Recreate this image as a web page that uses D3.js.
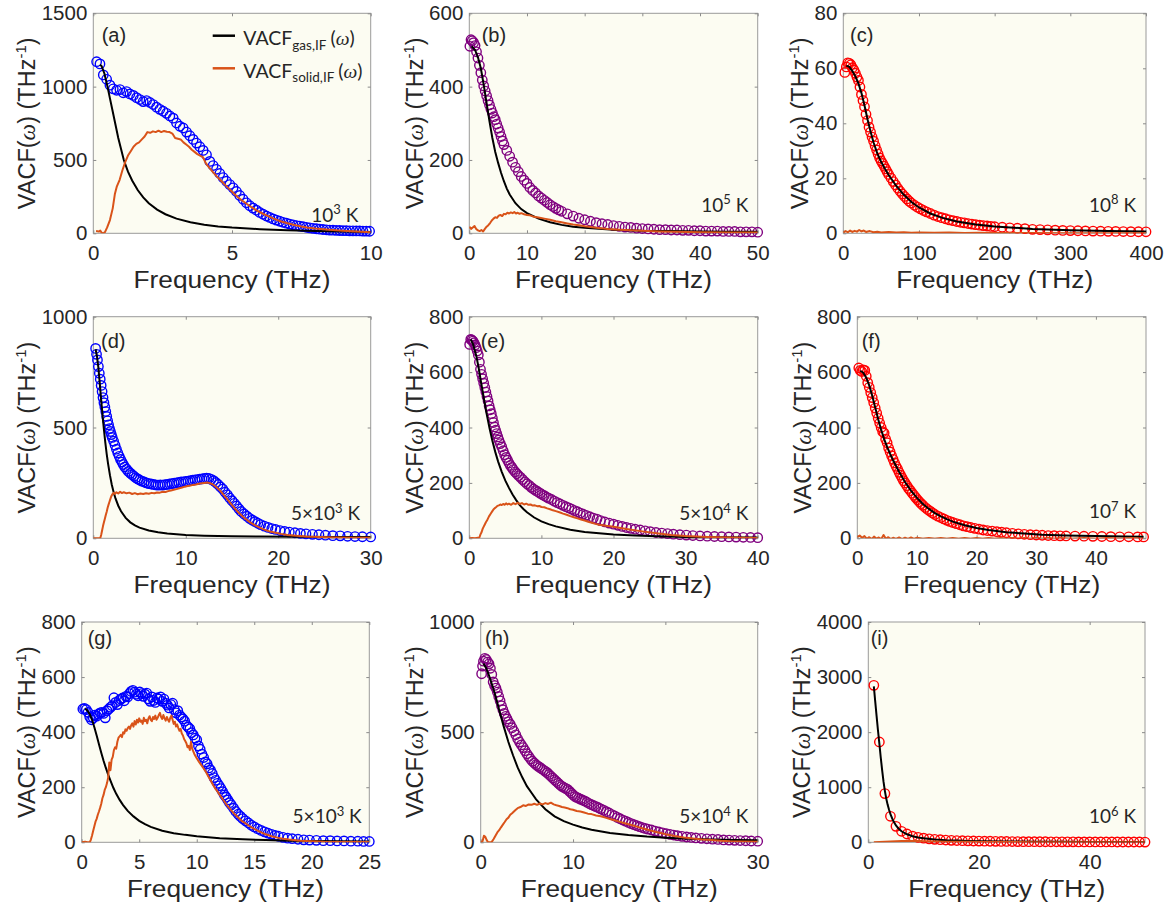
<!DOCTYPE html>
<html>
<head>
<meta charset="utf-8">
<script src="https://cdn.jsdelivr.net/npm/d3@7"></script>
<style>
  body { margin: 0; background: #fff; }
  svg text { font-family: "Liberation Sans", Arial, sans-serif; fill: #262626; }
</style>
</head>
<body>
<svg id="chart" width="1170" height="908"></svg>
<script>
// ---- data: [frequency THz, VACF THz^-1] ----
const aDots = [[0.12,1170],[0.24,1155],[0.36,1080],[0.48,1050],[0.6,1010],[0.72,985],[0.84,975],[0.96,980],[1.08,958],[1.2,966],[1.32,950],[1.44,940],[1.56,925],[1.68,912],[1.8,898],[1.92,905],[2.04,892],[2.16,878],[2.28,860],[2.4,845],[2.52,832],[2.64,818],[2.76,800],[2.88,785],[3.0,752],[3.12,730],[3.24,718],[3.36,690],[3.48,665],[3.6,640],[3.72,615],[3.84,590],[3.96,565],[4.08,535],[4.2,490],[4.32,462],[4.44,436],[4.56,408],[4.68,380],[4.8,355],[4.92,332],[5.04,310],[5.16,285],[5.28,258],[5.4,232],[5.52,208],[5.64,188],[5.76,172],[5.88,158],[6.0,142],[6.12,130],[6.24,118],[6.36,108],[6.48,98],[6.6,90],[6.72,82],[6.84,75],[6.96,69],[7.08,63],[7.2,58],[7.32,53],[7.44,49],[7.56,45],[7.68,41],[7.8,37],[7.92,34],[8.04,31],[8.16,28],[8.28,26],[8.4,24],[8.52,22],[8.64,21],[8.76,20],[8.88,19],[9.0,18],[9.12,18],[9.24,17],[9.36,17],[9.48,16],[9.6,16],[9.72,15],[9.84,15],[9.96,14]];
const aGas = [[0.24,1150],[0.3,1140],[0.4,1090],[0.5,1010],[0.6,920],[0.7,830],[0.8,740],[0.9,650],[1.0,575],[1.1,500],[1.25,420],[1.4,360],[1.6,295],[1.8,245],[2.0,205],[2.3,162],[2.6,130],[3.0,100],[3.5,75],[4.0,58],[4.5,47],[5.0,39],[6.0,28],[7.0,21],[8.0,16],[9.0,12],[10.0,9]];
const aSolid = [[0.1,15],[0.2,12],[0.25,18],[0.3,5],[0.36,0],[0.42,8],[0.5,40],[0.6,90],[0.7,170],[0.78,270],[0.85,320],[0.95,365],[1.05,430],[1.15,485],[1.25,530],[1.35,560],[1.45,590],[1.55,610],[1.65,620],[1.75,640],[1.85,660],[1.95,690],[2.05,685],[2.15,695],[2.25,690],[2.35,700],[2.45,690],[2.55,698],[2.65,692],[2.75,690],[2.85,680],[2.95,650],[3.05,645],[3.15,640],[3.25,620],[3.35,605],[3.45,590],[3.55,570],[3.65,555],[3.75,540],[3.85,530],[3.95,520],[4.05,480],[4.15,455],[4.3,420],[4.45,388],[4.6,360],[4.75,330],[4.9,303],[5.05,275],[5.2,248],[5.35,225],[5.5,205],[5.7,178],[5.9,155],[6.1,135],[6.3,117],[6.5,100],[6.75,82],[7.0,68],[7.25,56],[7.5,46],[7.75,38],[8.0,32],[8.5,24],[9.0,17],[9.5,12],[10.0,8]];

const bDots = [[0.1,510],[0.3,528],[0.5,525],[0.75,520],[1.0,512],[1.25,495],[1.5,478],[1.75,458],[2.0,438],[2.25,418],[2.5,402],[2.75,388],[3.0,375],[3.25,362],[3.5,350],[3.75,338],[4.0,328],[4.25,318],[4.5,310],[4.75,298],[5.0,287],[5.25,276],[5.5,264],[5.75,252],[6.0,242],[6.5,226],[7.0,210],[7.5,194],[8.0,180],[8.5,168],[9.0,155],[9.5,145],[10.0,136],[10.5,125],[11.0,117],[11.5,110],[12.0,102],[12.5,96],[13.0,90],[13.5,84],[14.0,78],[14.5,73],[15.0,68],[15.5,64],[16.0,60],[17.0,53],[18.0,47],[19.0,41],[20.0,37],[21.0,33],[22.0,29],[23.0,26],[24.0,24],[25.0,21],[26.0,19],[27.0,17],[28.0,16],[29.0,14],[30.0,13],[31.0,12],[32.0,11],[33.0,10],[34.0,10],[35.0,9],[36.0,9],[37.0,8],[38.0,8],[39.0,7],[40.0,7],[41.0,6],[42.0,6],[43.0,6],[44.0,5],[45.0,5],[46.0,5],[47.0,4],[48.0,4],[49.0,4],[50.0,3]];
const bGas = [[0.4,510],[1.0,500],[1.5,480],[2.0,450],[2.5,405],[3.0,355],[3.5,305],[4.0,260],[4.5,222],[5.0,192],[5.5,165],[6.0,142],[6.5,122],[7.0,106],[8.0,82],[9.0,66],[10.0,55],[12.0,40],[14.0,30],[16.0,23],[18.0,18],[20.0,15],[25.0,10],[30.0,7],[35.0,6],[40.0,5],[45.0,4],[50.0,4]];
const bSolid = [[0,18],[0.3,12],[0.6,16],[0.9,20],[1.2,12],[1.5,8],[1.8,6],[2.1,9],[2.4,5],[2.7,12],[3.0,18],[3.3,22],[3.6,28],[3.9,35],[4.2,40],[4.5,44],[4.8,42],[5.1,48],[5.4,50],[5.7,47],[6.0,53],[6.3,52],[6.6,56],[6.9,54],[7.2,57],[7.5,55],[7.8,58],[8.1,54],[8.4,56],[8.7,53],[9.0,55],[9.5,52],[10.0,50],[10.5,49],[11.0,46],[12.0,43],[13.0,40],[14.0,37],[15.0,33],[16.0,30],[17.0,27],[18.0,24],[19.0,22],[20.0,19],[22.0,15],[24.0,12],[26.0,10],[28.0,8],[30.0,7],[33.0,5],[36.0,4],[40.0,3],[45.0,2],[50.0,2]];

const cDots = [[2,58.5],[4,60.5],[6,62],[8,61.8],[10,61.3],[12,60.2],[14,59.4],[16,58.2],[18,56.8],[20,55.6],[22,53.2],[24,50.5],[26,48.3],[28,46],[30,43.3],[32,41],[34,38.6],[36,36.8],[38,35],[40,33.5],[42,31.8],[44,30.3],[46,28.8],[48,27.4],[50,26.3],[52,25.4],[54,24.4],[56,23.4],[58,22.4],[60,21.4],[63,20.1],[66,18.8],[69,17.6],[72,16.4],[75,15.3],[78,14.3],[81,13.4],[84,12.5],[87,11.7],[90,11],[94,10.2],[98,9.5],[102,8.9],[106,8.3],[110,7.8],[115,7.2],[120,6.6],[125,6.1],[130,5.7],[135,5.3],[140,4.9],[145,4.6],[150,4.3],[155,4.0],[160,3.8],[165,3.55],[170,3.35],[175,3.15],[180,2.95],[185,2.8],[190,2.65],[195,2.5],[200,2.4],[210,2.2],[220,2.0],[230,1.85],[240,1.7],[250,1.45],[260,1.35],[270,1.25],[280,1.15],[290,1.05],[300,0.98],[310,0.92],[320,0.86],[330,0.8],[340,0.76],[350,0.72],[360,0.68],[370,0.64],[380,0.6],[390,0.57],[400,0.55]];
const cGas = [[4,61],[8,60.5],[12,59],[16,57],[20,54.5],[24,51],[28,46.5],[32,41.5],[36,37],[40,33],[45,29],[50,26],[55,23.5],[60,21.2],[70,17.2],[80,14],[90,11.4],[100,9.4],[115,7.2],[130,5.7],[150,4.3],[175,3.2],[200,2.5],[250,1.6],[300,1.15],[350,0.85],[400,0.65]];
const cSolid = [[0,0.3],[3,0.8],[6,0.4],[9,1.0],[12,0.5],[15,0.9],[18,0.6],[21,1.2],[24,0.7],[27,1.0],[30,0.5],[35,0.8],[40,0.4],[45,0.6],[50,0.3],[60,0.5],[70,0.3],[80,0.4],[90,0.2],[100,0.3],[120,0.2],[140,0.25],[160,0.15],[180,0.2],[200,0.1],[250,0.1],[300,0.05],[350,0.05],[400,0.05]];

const dDots = [[0.25,857],[0.35,830],[0.45,805],[0.55,775],[0.65,745],[0.75,718],[0.85,690],[0.95,662],[1.05,635],[1.15,612],[1.25,592],[1.35,572],[1.45,550],[1.55,530],[1.65,512],[1.75,495],[1.85,482],[1.95,468],[2.05,455],[2.2,438],[2.35,420],[2.5,402],[2.65,385],[2.8,370],[2.95,356],[3.1,344],[3.25,333],[3.4,322],[3.6,312],[3.8,302],[4.0,294],[4.2,287],[4.4,280],[4.6,273],[4.8,268],[5.0,263],[5.25,258],[5.5,254],[5.75,250],[6.0,247],[6.25,245],[6.5,243],[6.75,241],[7.0,240],[7.25,241],[7.5,240],[7.75,242],[8.0,243],[8.25,245],[8.5,247],[8.75,249],[9.0,250],[9.25,252],[9.5,254],[9.75,255],[10.0,257],[10.25,258],[10.5,260],[10.75,262],[11.0,264],[11.25,265],[11.5,267],[11.75,268],[12.0,270],[12.25,271],[12.5,270],[12.75,266],[13.0,260],[13.25,252],[13.5,243],[13.75,232],[14.0,222],[14.25,208],[14.5,196],[14.75,182],[15.0,170],[15.25,158],[15.5,146],[15.75,133],[16.0,121],[16.3,110],[16.6,100],[16.9,90],[17.2,82],[17.5,75],[17.8,68],[18.1,62],[18.5,55],[18.9,49],[19.3,44],[19.7,40],[20.2,35],[20.7,31],[21.2,28],[21.8,25],[22.4,22],[23.0,20],[23.7,18],[24.4,16],[25.1,14],[25.9,12],[26.7,11],[27.5,9],[28.3,8],[29.1,7],[30.0,6]];
const dGas = [[0.25,853],[0.4,820],[0.55,770],[0.7,700],[0.85,625],[1.0,555],[1.15,490],[1.3,432],[1.45,380],[1.6,336],[1.8,285],[2.0,242],[2.2,208],[2.4,180],[2.7,147],[3.0,122],[3.5,92],[4.0,72],[4.5,58],[5.0,48],[6.0,35],[7.0,27],[8.0,22],[10.0,15],[12.0,12],[15.0,9],[18.0,8],[22.0,7],[26.0,6],[30.0,6]];
const dSolid = [[0,0],[0.3,0],[0.6,0],[0.75,0],[0.85,15],[0.95,35],[1.05,55],[1.15,72],[1.25,88],[1.35,105],[1.45,120],[1.55,138],[1.65,152],[1.75,165],[1.85,178],[1.95,190],[2.05,198],[2.2,205],[2.35,200],[2.5,208],[2.7,202],[2.9,210],[3.1,204],[3.3,208],[3.6,203],[3.9,206],[4.2,200],[4.5,204],[4.8,199],[5.1,202],[5.4,200],[5.7,203],[6.0,201],[6.3,205],[6.6,203],[6.9,207],[7.2,206],[7.5,210],[7.8,209],[8.1,213],[8.4,216],[8.7,219],[9.0,222],[9.3,226],[9.6,229],[9.9,233],[10.2,236],[10.5,238],[10.8,241],[11.1,243],[11.4,246],[11.7,248],[12.0,250],[12.3,252],[12.6,249],[12.9,244],[13.2,235],[13.5,224],[13.8,211],[14.1,196],[14.4,181],[14.7,165],[15.0,150],[15.3,135],[15.6,121],[15.9,108],[16.3,93],[16.7,80],[17.1,68],[17.5,58],[18.0,48],[18.5,39],[19.0,32],[19.6,26],[20.3,20],[21.0,15],[22.0,11],[23.0,8],[24.5,6],[26.0,4],[28.0,3],[30.0,2]];

const eDots = [[0.05,700],[0.2,718],[0.35,716],[0.5,712],[0.65,706],[0.8,698],[0.95,688],[1.1,676],[1.25,662],[1.4,636],[1.55,610],[1.7,592],[1.85,576],[2.0,560],[2.15,544],[2.3,528],[2.45,512],[2.6,496],[2.75,478],[2.9,464],[3.05,450],[3.2,434],[3.35,418],[3.5,402],[3.65,390],[3.8,378],[3.95,366],[4.1,355],[4.3,342],[4.5,330],[4.7,316],[4.9,302],[5.1,292],[5.3,282],[5.5,272],[5.7,263],[5.9,256],[6.1,248],[6.35,240],[6.6,233],[6.85,226],[7.1,220],[7.4,212],[7.7,204],[8.0,197],[8.3,191],[8.6,184],[8.9,178],[9.2,173],[9.5,168],[9.8,163],[10.1,158],[10.4,154],[10.7,149],[11.0,145],[11.4,140],[11.8,134],[12.2,129],[12.6,124],[13.0,119],[13.4,114],[13.8,110],[14.2,105],[14.6,100],[15.0,96],[15.4,91],[15.8,87],[16.2,83],[16.7,78],[17.2,73],[17.7,69],[18.2,64],[18.8,59],[19.4,55],[20.0,51],[20.6,47],[21.2,43],[21.8,39],[22.4,36],[23.0,33],[23.7,30],[24.4,27],[25.1,24],[25.9,21],[26.7,19],[27.5,17],[28.3,15],[29.2,13],[30.1,11.5],[31.0,10],[32.0,8.5],[33.0,7.5],[34.0,6.5],[35.0,5.8],[36.0,5],[37.0,4.3],[38.0,3.6],[39.0,3],[40.0,2.4]];
const eGas = [[0.2,718],[0.5,702],[0.8,675],[1.0,655],[1.3,615],[1.6,568],[2.0,508],[2.4,450],[2.8,398],[3.2,352],[3.6,312],[4.0,277],[4.5,240],[5.0,208],[5.5,182],[6.0,158],[6.5,138],[7.0,120],[7.5,106],[8.0,94],[9.0,75],[10.0,61],[11.0,51],[12.0,43],[14.0,31],[16.0,23],[18.0,18],[20.0,14],[23.0,10],[26.0,7],[30.0,5],[35.0,4],[40.0,3]];
const eSolid = [[0,0],[0.4,1],[0.8,0],[1.2,2],[1.4,3],[1.55,14],[1.7,22],[1.85,34],[2.0,42],[2.15,50],[2.3,58],[2.45,64],[2.6,72],[2.75,80],[2.9,86],[3.05,92],[3.2,98],[3.35,104],[3.5,108],[3.7,112],[3.9,117],[4.1,119],[4.3,122],[4.5,120],[4.7,124],[4.9,121],[5.1,126],[5.3,122],[5.5,125],[5.8,121],[6.1,127],[6.4,123],[6.7,128],[7.0,124],[7.3,127],[7.6,122],[7.9,125],[8.2,121],[8.5,122],[8.8,118],[9.1,119],[9.4,116],[9.7,117],[10.0,113],[10.4,112],[10.8,108],[11.2,105],[11.6,101],[12.0,98],[12.5,94],[13.0,89],[13.5,85],[14.0,80],[14.5,76],[15.0,72],[15.5,68],[16.0,64],[16.5,60],[17.0,56],[17.5,52],[18.0,49],[19.0,45],[20.0,42],[22.0,33],[24.0,25],[26.0,18],[28.0,12],[30.0,8],[33.0,5],[36.0,3],[40.0,1]];

const fDots = [[0.25,615],[0.5,606],[0.75,602],[1.0,608],[1.25,606],[1.5,585],[1.75,562],[2.0,545],[2.25,526],[2.5,508],[2.75,490],[3.0,470],[3.25,452],[3.5,433],[3.75,416],[4.0,400],[4.25,385],[4.5,380],[4.75,358],[5.0,345],[5.25,326],[5.5,312],[5.75,298],[6.0,285],[6.25,272],[6.5,260],[6.75,250],[7.0,238],[7.25,228],[7.5,218],[7.75,208],[8.0,200],[8.3,190],[8.6,180],[8.9,172],[9.2,163],[9.5,155],[9.8,147],[10.1,139],[10.4,132],[10.7,125],[11.0,119],[11.4,111],[11.8,104],[12.2,98],[12.6,92],[13.0,86],[13.5,80],[14.0,75],[14.5,70],[15.0,65],[15.5,61],[16.0,57],[16.6,53],[17.2,49],[17.8,45],[18.4,42],[19.0,39],[19.7,36],[20.4,33],[21.1,30],[21.8,28],[22.6,26],[23.4,24],[24.2,22],[25.0,20],[26.0,18],[27.0,16],[28.0,14.5],[29.0,13],[30.0,12],[31.0,11],[32.0,10],[33.0,9.5],[34.0,9],[35.0,8.5],[36.5,8],[38.0,7.5],[39.5,7],[41.0,6.5],[42.5,6],[44.0,5.5],[45.5,5.5],[47.0,5],[48.0,5]];
const fGas = [[0.5,605],[1.0,598],[1.5,580],[2.0,552],[2.5,515],[3.0,472],[3.5,430],[4.0,392],[4.5,358],[5.0,330],[5.5,305],[6.0,282],[7.0,240],[8.0,203],[9.0,172],[10.0,146],[11.0,124],[12.0,106],[13.0,91],[14.0,79],[15.0,69],[16.0,60],[18.0,47],[20.0,37],[22.0,30],[25.0,22],[28.0,17],[31.0,13],[35.0,10],[40.0,8],[45.0,6.5],[48.0,6]];
const fSolid = [[0,5],[0.4,10],[0.8,2],[1.2,8],[1.6,-2],[2.0,4],[2.4,-3],[2.8,6],[3.2,-1],[3.6,3],[4.0,-3],[4.4,12],[4.8,-2],[5.2,4],[5.6,-3],[6.0,2],[6.5,-2],[7.0,3],[7.5,-3],[8.0,2],[8.5,-2],[9.0,3],[9.5,-2],[10.0,2],[11.0,-2],[12.0,1],[13.0,-2],[14.0,1],[15.0,-2],[16.0,1],[17.0,-2],[18.0,1],[19.0,-2],[20.0,1],[21.0,-2],[22.0,1],[23.0,-2],[24.0,1],[25.0,-2],[26.0,1],[27.0,-2],[28.0,1],[29.0,-2],[30.0,1],[31.0,-2],[32.0,1],[33.0,-2],[34.0,1],[36.0,-2],[38.0,1],[40.0,-2],[42.0,1],[44.0,-2],[46.0,1],[48.0,-2]];

const gDots = [[0.1,484],[0.25,486],[0.4,482],[0.55,472],[0.7,455],[0.85,445],[1.0,452],[1.15,462],[1.3,458],[1.45,465],[1.6,470],[1.75,472],[1.9,468],[2.05,452],[2.2,478],[2.35,484],[2.5,490],[2.65,496],[2.8,525],[2.95,508],[3.1,500],[3.25,515],[3.4,520],[3.55,524],[3.7,514],[3.85,530],[4.0,528],[4.15,540],[4.3,548],[4.45,552],[4.6,545],[4.75,538],[4.9,532],[5.05,546],[5.2,540],[5.35,530],[5.5,538],[5.65,542],[5.8,520],[5.95,512],[6.1,528],[6.25,515],[6.4,508],[6.55,524],[6.7,520],[6.85,528],[7.0,512],[7.15,520],[7.3,505],[7.45,498],[7.6,488],[7.75,500],[7.9,505],[8.05,482],[8.2,470],[8.35,478],[8.5,462],[8.65,455],[8.8,448],[8.95,440],[9.1,425],[9.25,418],[9.4,412],[9.55,398],[9.7,390],[9.85,378],[10.0,372],[10.15,350],[10.3,338],[10.45,320],[10.6,308],[10.75,292],[10.9,285],[11.05,270],[11.2,262],[11.35,250],[11.5,235],[11.65,225],[11.8,214],[11.95,205],[12.1,195],[12.25,184],[12.4,172],[12.55,164],[12.7,154],[12.85,144],[13.0,136],[13.2,124],[13.4,112],[13.6,102],[13.8,94],[14.0,86],[14.25,78],[14.5,70],[14.75,62],[15.0,56],[15.3,49],[15.6,43],[15.9,38],[16.2,33],[16.5,29],[16.8,25],[17.1,22],[17.5,18],[17.9,15],[18.3,13],[18.8,11],[19.3,9],[19.8,8],[20.4,7],[21.0,6],[21.6,6],[22.2,5],[22.8,5],[23.4,4],[24.0,4],[24.5,3],[25.0,3]];
const gGas = [[0.3,486],[0.5,478],[0.7,465],[0.9,445],[1.1,418],[1.3,388],[1.5,356],[1.7,325],[1.9,296],[2.1,270],[2.3,246],[2.5,224],[2.75,198],[3.0,176],[3.3,154],[3.6,135],[4.0,114],[4.5,94],[5.0,78],[5.5,66],[6.0,56],[7.0,42],[8.0,33],[9.0,27],[10.0,22],[12.0,15],[14.0,11],[16.0,8],[18.0,6],[20.0,5],[22.5,4],[25.0,3]];
const gSolid = [[0,0],[0.3,2],[0.5,0],[0.7,0],[0.8,10],[0.9,25],[1.0,42],[1.1,58],[1.2,75],[1.3,85],[1.4,100],[1.5,112],[1.6,125],[1.7,140],[1.8,160],[1.9,172],[2.0,190],[2.1,200],[2.2,215],[2.3,235],[2.4,290],[2.5,262],[2.6,300],[2.7,310],[2.8,335],[2.9,345],[3.0,340],[3.1,365],[3.2,380],[3.3,385],[3.4,390],[3.5,382],[3.6,400],[3.7,395],[3.8,410],[3.9,405],[4.0,415],[4.1,420],[4.2,412],[4.3,425],[4.4,432],[4.5,420],[4.6,440],[4.7,428],[4.8,445],[4.9,435],[5.0,450],[5.1,438],[5.2,442],[5.3,430],[5.4,452],[5.5,440],[5.6,445],[5.7,432],[5.8,450],[5.9,458],[6.0,445],[6.1,440],[6.2,455],[6.3,448],[6.4,460],[6.5,445],[6.6,452],[6.7,462],[6.8,470],[6.9,455],[7.0,448],[7.1,462],[7.2,450],[7.3,442],[7.4,455],[7.5,445],[7.6,438],[7.7,452],[7.8,460],[7.9,445],[8.0,430],[8.1,438],[8.2,420],[8.3,428],[8.4,415],[8.5,405],[8.6,412],[8.7,395],[8.8,388],[8.9,375],[9.0,368],[9.1,360],[9.2,345],[9.3,350],[9.4,335],[9.5,365],[9.6,340],[9.7,330],[9.8,320],[10.0,305],[10.2,292],[10.4,280],[10.6,268],[10.8,255],[11.0,240],[11.2,225],[11.4,210],[11.6,196],[11.8,185],[12.0,172],[12.2,160],[12.4,148],[12.6,136],[12.8,126],[13.0,116],[13.3,102],[13.6,90],[13.9,78],[14.2,70],[14.5,61],[14.8,53],[15.2,44],[15.6,36],[16.0,29],[16.5,22],[17.0,17],[17.5,13],[18.0,10],[19.0,6],[20.0,4],[21.0,2],[22.5,1],[25.0,1]];

const hDots = [[0.1,765],[0.2,800],[0.3,822],[0.45,835],[0.6,830],[0.75,818],[0.9,810],[1.05,790],[1.2,762],[1.35,728],[1.5,712],[1.65,700],[1.8,682],[1.95,662],[2.1,642],[2.25,620],[2.4,602],[2.55,585],[2.7,572],[2.85,560],[3.0,547],[3.2,535],[3.4,520],[3.6,504],[3.8,488],[4.0,470],[4.2,455],[4.4,442],[4.6,430],[4.8,416],[5.0,402],[5.2,390],[5.4,378],[5.6,368],[5.8,360],[6.0,352],[6.2,346],[6.4,340],[6.6,334],[6.8,328],[7.0,322],[7.2,316],[7.4,308],[7.6,300],[7.8,292],[8.0,284],[8.2,276],[8.4,268],[8.6,260],[8.8,254],[9.0,249],[9.2,245],[9.4,240],[9.6,232],[9.8,224],[10.0,216],[10.2,208],[10.4,204],[10.6,200],[10.8,196],[11.0,192],[11.25,188],[11.5,182],[11.75,176],[12.0,171],[12.25,166],[12.5,162],[12.75,157],[13.0,152],[13.3,146],[13.6,139],[13.9,133],[14.2,126],[14.5,120],[14.8,113],[15.1,107],[15.4,101],[15.7,96],[16.0,90],[16.3,85],[16.6,80],[16.9,76],[17.2,71],[17.5,67],[17.8,63],[18.1,60],[18.5,56],[18.9,51],[19.3,47],[19.7,43],[20.1,39],[20.5,36],[20.9,33],[21.3,30],[21.8,27],[22.3,24],[22.8,22],[23.3,20],[23.9,18],[24.5,16],[25.1,14],[25.7,13],[26.3,11],[26.9,10],[27.5,9],[28.1,8],[28.7,7],[29.3,6],[30.0,5]];
const hGas = [[0.3,812],[0.6,790],[1.0,745],[1.5,680],[2.0,600],[2.5,525],[3.0,455],[3.5,395],[4.0,340],[4.5,295],[5.0,255],[5.5,225],[6.0,195],[6.5,172],[7.0,150],[8.0,118],[9.0,96],[10.0,80],[11.0,67],[12.0,57],[14.0,42],[16.0,33],[18.0,26],[20.0,21],[22.5,16],[25.0,13],[27.5,11],[30.0,9]];
const hSolid = [[0,0],[0.2,5],[0.35,30],[0.5,25],[0.65,10],[0.8,0],[1.0,0],[1.2,2],[1.4,15],[1.6,30],[1.8,45],[2.0,55],[2.2,68],[2.4,80],[2.6,92],[2.8,105],[3.0,112],[3.2,125],[3.4,132],[3.6,140],[3.8,148],[4.0,155],[4.3,160],[4.6,168],[4.9,165],[5.2,172],[5.5,170],[5.8,175],[6.1,170],[6.4,176],[6.7,172],[7.0,178],[7.3,174],[7.6,180],[7.9,172],[8.2,168],[8.5,165],[8.8,160],[9.1,158],[9.4,155],[9.7,150],[10.0,148],[10.4,142],[10.8,140],[11.2,135],[11.6,130],[12.0,128],[12.5,122],[13.0,118],[13.5,112],[14.0,106],[14.5,100],[15.0,94],[15.5,88],[16.0,82],[16.5,76],[17.0,70],[17.5,64],[18.0,58],[18.5,52],[19.0,47],[19.5,42],[20.0,37],[21.0,29],[22.0,22],[23.0,17],[24.0,13],[25.0,10],[26.0,7],[27.0,5],[28.0,4],[30.0,2]];

const iDots = [[1,2850],[2,1822],[3,884],[4,472],[5,290],[6,200],[7,151],[8,112],[9,90],[10,75],[11,63],[12,54],[13,47],[14,41],[15,36],[16,32],[17,29],[18,26],[19,24],[20,22],[21,20],[22,19],[23,17],[24,16],[25,15],[26,14],[27,13],[28,12],[29,12],[30,11],[31,10],[32,10],[33,9],[34,9],[35,8],[36,8],[37,8],[38,7],[39,7],[40,7],[41,6],[42,6],[43,6],[44,6],[45,5],[46,5],[47,5],[48,5],[49,5],[50,4]];
const iGas = [[1,2830],[1.25,2560],[1.5,2290],[1.75,2030],[2,1790],[2.25,1540],[2.5,1310],[2.75,1100],[3,930],[3.25,790],[3.5,680],[3.75,590],[4,510],[4.5,390],[5,305],[5.5,245],[6,200],[7,145],[8,110],[9,88],[10,72],[12,52],[14,39],[16,31],[18,25],[20,21],[25,14],[30,10],[35,8],[40,6],[45,5],[50,4]];
const iSolid = [[1,0],[2,5],[3,10],[4,15],[5,20],[6,22],[7,25],[8,24],[9,22],[10,20],[12,16],[14,12],[16,10],[18,8],[20,6],[25,4],[30,3],[35,2],[40,2],[45,1],[50,1]];

// tick values and text
const xTicks = {a:[0,5,10], b:[0,10,20,30,40,50], c:[0,100,200,300,400], d:[0,10,20,30], e:[0,10,20,30,40], f:[0,10,20,30,40], g:[0,5,10,15,20,25], h:[0,10,20,30], i:[0,20,40]};
const yTicks = {a:[0,500,1000,1500], b:[0,200,400,600], c:[0,20,40,60,80], d:[0,500,1000], e:[0,200,400,600,800], f:[0,200,400,600,800], g:[0,200,400,600,800], h:[0,500,1000], i:[0,1000,2000,3000,4000]};
const tempLabels = {a:["10","3"], b:["10","5"], c:["10","8"], d:["5\u00d710","3"], e:["5\u00d710","4"], f:["10","7"], g:["5\u00d710","3"], h:["5\u00d710","4"], i:["10","6"]};
const legendSubs = ["gas,IF", "solid,IF"];

const blue = "#0000ff", purple = "#7f007f", red = "#ff0000", orange = "#d95319";

// layout: plot box [left, top, right, bottom], panel label offset, temperature label offset
const panels = [
  {id:"a", dots:aDots, gas:aGas, solid:aSolid, color:blue,   xMax:10,  yMax:1500, box:[93.3,13.3,370.7,233.3],  lab:[8.4,29],  temp:[12.4,11.7]},
  {id:"b", dots:bDots, gas:bGas, solid:bSolid, color:purple, xMax:50,  yMax:600,  box:[469.3,13.3,757.7,233.3], lab:[12.4,29], temp:[9.4,21.7]},
  {id:"c", dots:cDots, gas:cGas, solid:cSolid, color:red,    xMax:400, yMax:80,   box:[843.3,13.3,1146,233.3],  lab:[6.7,29],  temp:[10,21.7]},
  {id:"d", dots:dDots, gas:dGas, solid:dSolid, color:blue,   xMax:30,  yMax:1000, box:[93.3,316.7,370.7,538.3], lab:[7.7,31.6], temp:[10.7,18.3]},
  {id:"e", dots:eDots, gas:eGas, solid:eSolid, color:purple, xMax:40,  yMax:800,  box:[469.3,316.7,757.7,538.3], lab:[11.4,31.6], temp:[9.4,18.3]},
  {id:"f", dots:fDots, gas:fGas, solid:fSolid, color:red,    xMax:48.4, yMax:800, box:[857.3,316.7,1146,538.3], lab:[4.4,31.6], temp:[10,20]},
  {id:"g", dots:gDots, gas:gGas, solid:gSolid, color:blue,   xMax:25,  yMax:800,  box:[81.7,622,369.3,842.3],   lab:[6,22.7],  temp:[7.6,19.3]},
  {id:"h", dots:hDots, gas:hGas, solid:hSolid, color:purple, xMax:30,  yMax:1000, box:[480.7,622,757.7,842.3],  lab:[4.3,22.7], temp:[9.4,19.3]},
  {id:"i", dots:iDots, gas:iGas, solid:iSolid, color:red,    xMax:50,  yMax:4000, box:[868.3,622,1145,842.3],   lab:[2.4,22.7], temp:[9,19.3]}
];

const svg = d3.select("#chart");
const defs = svg.append("defs");

function styleTicks(sel) {
  sel.select(".domain").remove();
  sel.selectAll("line").attr("stroke", "#8a8a8a");
  sel.selectAll("text").style("font-size", "20.5px").style("font-family", "'Liberation Sans', Arial, sans-serif").attr("fill", "#262626");
}

function drawPanel(p) {
  const [x0, y0, x1, y1] = p.box;
  const x = d3.scaleLinear().domain([0, p.xMax]).range([x0, x1]);
  const y = d3.scaleLinear().domain([0, p.yMax]).range([y1, y0]);
  const g = svg.append("g").attr("class", "panel-" + p.id);

  g.append("rect").attr("x", x0).attr("y", y0).attr("width", x1 - x0).attr("height", y1 - y0)
    .attr("fill", "#fcfcf2").attr("stroke", "#9a9a9a").attr("stroke-width", 1);

  defs.append("clipPath").attr("id", "clip-" + p.id).append("rect")
    .attr("x", x0).attr("y", y0).attr("width", x1 - x0).attr("height", y1 - y0);

  // MATLAB style: ticks point inward on all four sides
  g.append("g").attr("transform", `translate(0,${y1})`)
    .call(d3.axisBottom(x).tickValues(xTicks[p.id]).tickSize(-3).tickPadding(12.5).tickFormat(d3.format("d")))
    .call(styleTicks);
  g.append("g").attr("transform", `translate(0,${y0})`)
    .call(d3.axisTop(x).tickValues(xTicks[p.id]).tickSize(-3).tickFormat(""))
    .call(styleTicks);
  const yAxisG = g.append("g").attr("transform", `translate(${x0},0)`)
    .call(d3.axisLeft(y).tickValues(yTicks[p.id]).tickSize(-3).tickPadding(6).tickFormat(d3.format("d")))
    .call(styleTicks);
  g.append("g").attr("transform", `translate(${x1},0)`)
    .call(d3.axisRight(y).tickValues(yTicks[p.id]).tickSize(-3).tickFormat(""))
    .call(styleTicks);

  // circles (VACF total), not clipped like MATLAB markers
  g.append("g").selectAll("circle").data(p.dots).enter().append("circle")
    .attr("cx", d => x(d[0])).attr("cy", d => y(d[1])).attr("r", 4.7)
    .attr("fill", "none").attr("stroke", p.color).attr("stroke-width", 1.4);

  const line = d3.line().x(d => x(d[0])).y(d => y(d[1]));
  g.append("path").datum(p.gas).attr("d", line).attr("clip-path", `url(#clip-${p.id})`)
    .attr("fill", "none").attr("stroke", "#000").attr("stroke-width", 2);
  g.append("path").datum(p.solid).attr("d", line).attr("clip-path", `url(#clip-${p.id})`)
    .attr("fill", "none").attr("stroke", orange).attr("stroke-width", 2).attr("stroke-linejoin", "round");

  // axis labels
  g.append("text").attr("x", (x0 + x1) / 2).attr("y", y1 + 55).attr("text-anchor", "middle")
    .style("font-size", "23px").attr("textLength", 197).attr("lengthAdjust", "spacingAndGlyphs")
    .text("Frequency (THz)");

  const tickW = d3.max(yAxisG.selectAll("text").nodes(), n => n.getComputedTextLength());
  const ylab = g.append("text")
    .attr("transform", `translate(${x0 - 6 - tickW - 6.5},${(y0 + y1) / 2}) rotate(-90)`)
    .attr("text-anchor", "middle").style("font-size", "23.5px");
  ylab.append("tspan").text("VACF(");
  ylab.append("tspan").style("font-family", "'Liberation Serif', serif").style("font-style", "italic").text("\u03c9");
  ylab.append("tspan").text(") (THz");
  ylab.append("tspan").attr("dy", -9).style("font-size", "15px").text("-1");
  ylab.append("tspan").attr("dy", 9).text(")");

  // panel letter
  g.append("text").attr("x", x0 + p.lab[0]).attr("y", y0 + p.lab[1]).style("font-size", "20px").text(`(${p.id})`);

  // temperature
  const t = g.append("text").attr("x", x1 - p.temp[0]).attr("y", y1 - p.temp[1]).attr("text-anchor", "end")
    .style("font-family", "Lato, sans-serif").style("font-size", "19px").attr("fill", "#000");
  t.append("tspan").text(tempLabels[p.id][0]);
  t.append("tspan").attr("dy", -7.5).style("font-size", "13px").text(tempLabels[p.id][1]);
  t.append("tspan").attr("dy", 7.5).text(" K");
}

panels.forEach(drawPanel);

// legend in panel (a)
const legend = svg.append("g").attr("class", "legend");
legendSubs.forEach((sub, i) => {
  const ly = 35.7 + i * 32.6;
  legend.append("line").attr("x1", 212.7).attr("x2", 235).attr("y1", ly).attr("y2", ly)
    .attr("stroke", i === 0 ? "#000" : orange).attr("stroke-width", 2.5);
  const lt = legend.append("text").attr("x", 243.3).attr("y", ly + 9.3)
    .style("font-family", "Lato, sans-serif").style("font-size", "19.5px").attr("fill", "#000");
  lt.append("tspan").text("VACF");
  lt.append("tspan").attr("dy", 4.5).style("font-size", "13.5px").text(sub);
  lt.append("tspan").attr("dy", -4.5).attr("dx", 4).text("(");
  lt.append("tspan").style("font-family", "'Liberation Serif', serif").style("font-style", "italic").text("\u03c9");
  lt.append("tspan").text(")");
});
</script>
</body>
</html>
